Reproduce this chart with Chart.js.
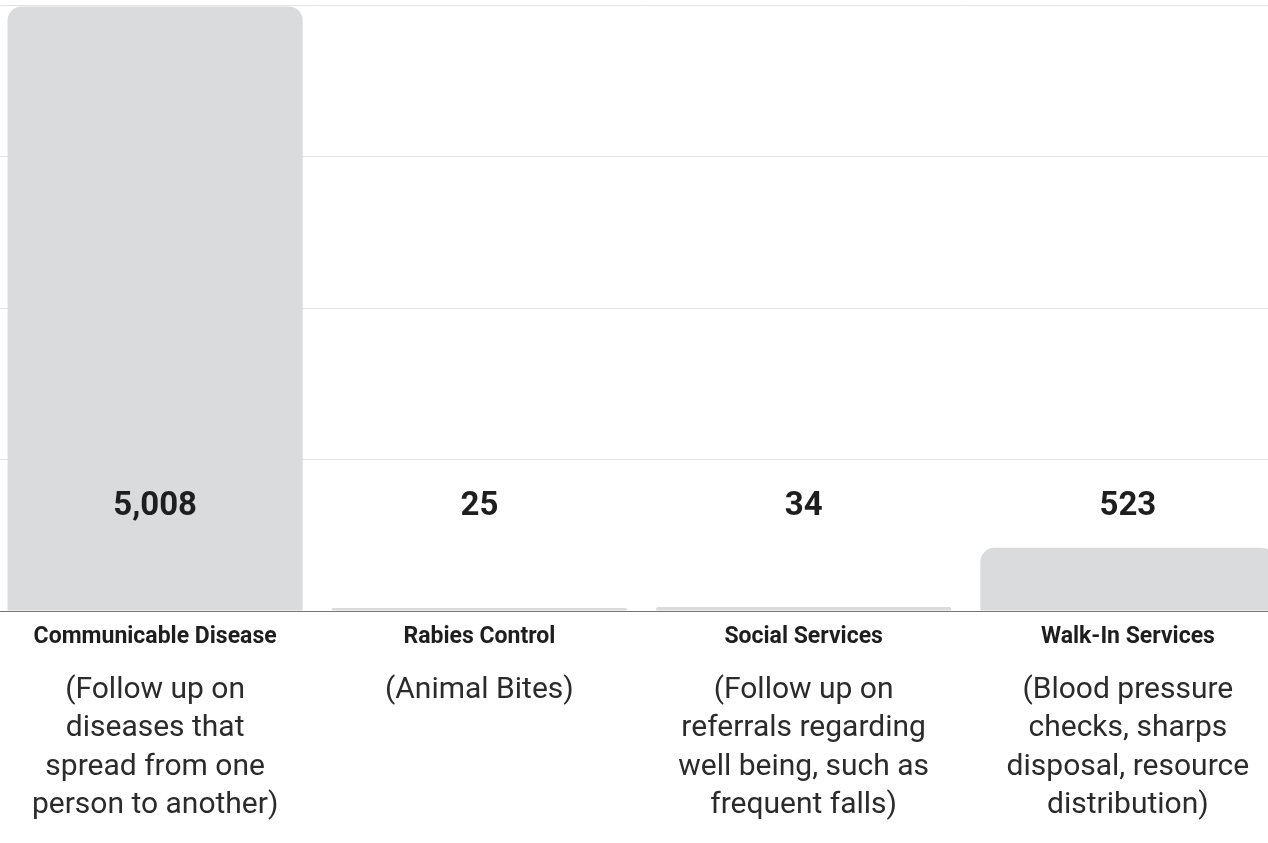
<!DOCTYPE html>
<html>
<head>
<meta charset="utf-8">
<script src="https://cdn.jsdelivr.net/npm/chart.js@4.4.1/dist/chart.umd.min.js"></script>
<style>
  html, body { margin: 0; padding: 0; background: #fff; overflow: hidden; }
  #wrap { position: absolute; left: -7px; top: 0; width: 1297px; height: 843px; }
</style>
</head>
<body>
<div id="wrap"><canvas id="myChart"></canvas></div>
<script>
// データ
const categories = ['Communicable Disease', 'Rabies Control', 'Social Services', 'Walk-In Services'];
const descriptions = [
    ['(Follow up on', 'diseases that', 'spread from one', 'person to another)'],
    ['(Animal Bites)'],
    ['(Follow up on', 'referrals regarding', 'well being, such as', 'frequent falls)'],
    ['(Blood pressure', 'checks, sharps', 'disposal, resource', 'distribution)']
];
const counts = [5008, 25, 34, 523];
const gridValues = [0, 1255, 2510, 3765, 5020];

// 数値と説明文を描くプラグイン
const labelPlugin = {
    id: 'labelPlugin',
    afterDraw(chart) {
        const ctx = chart.ctx;
        const xScale = chart.scales.x;
        const bottom = chart.chartArea.bottom;
        ctx.save();
        ctx.textAlign = 'center';
        ctx.textBaseline = 'middle';
        counts.forEach((v, i) => {
            const px = xScale.getPixelForValue(i);
            ctx.fillStyle = '#1e1e1e';
            ctx.font = 'bold 33px Roboto';
            ctx.fillText(v.toLocaleString('en-US'), px, bottom - 104);
            ctx.fillStyle = '#2b2b2b';
            ctx.font = '30px Roboto';
            descriptions[i].forEach((line, j) => {
                ctx.fillText(line, px, bottom + 79 + j * 38.5);
            });
        });
        ctx.restore();
    }
};

const ctx = document.getElementById('myChart').getContext('2d');
const myChart = new Chart(ctx, {
    type: 'bar',
    data: {
        labels: categories,
        datasets: [{
            data: counts,
            backgroundColor: '#dadbdd',
            borderRadius: { topLeft: 14, topRight: 14 },
            borderSkipped: 'bottom',
            barPercentage: 0.91,
            categoryPercentage: 1
        }]
    },
    options: {
        responsive: true,
        maintainAspectRatio: false,
        animation: false,
        layout: { padding: { top: 5, left: 0, right: 0, bottom: 0 } },
        plugins: {
            legend: { display: false },
            tooltip: { enabled: false }
        },
        scales: {
            x: {
                grid: { display: false, drawTicks: false },
                border: { display: true, color: '#777', width: 1 },
                ticks: {
                    color: '#1e1e1e',
                    font: { family: 'Roboto', weight: 'bold', size: 23 },
                    padding: 12,
                    maxRotation: 0
                },
                afterFit: s => { s.height = 232; }
            },
            y: {
                min: 0,
                max: gridValues[gridValues.length - 1],
                grid: {
                    color: c => c.tick.value === 0 ? '#777' : '#e3e3e3',
                    drawTicks: false
                },
                border: { display: false },
                ticks: { display: false },
                afterBuildTicks: s => { s.ticks = gridValues.map(v => ({ value: v })); },
                afterFit: s => { s.width = 0; }
            }
        }
    },
    plugins: [labelPlugin]
});
</script>
</body>
</html>
